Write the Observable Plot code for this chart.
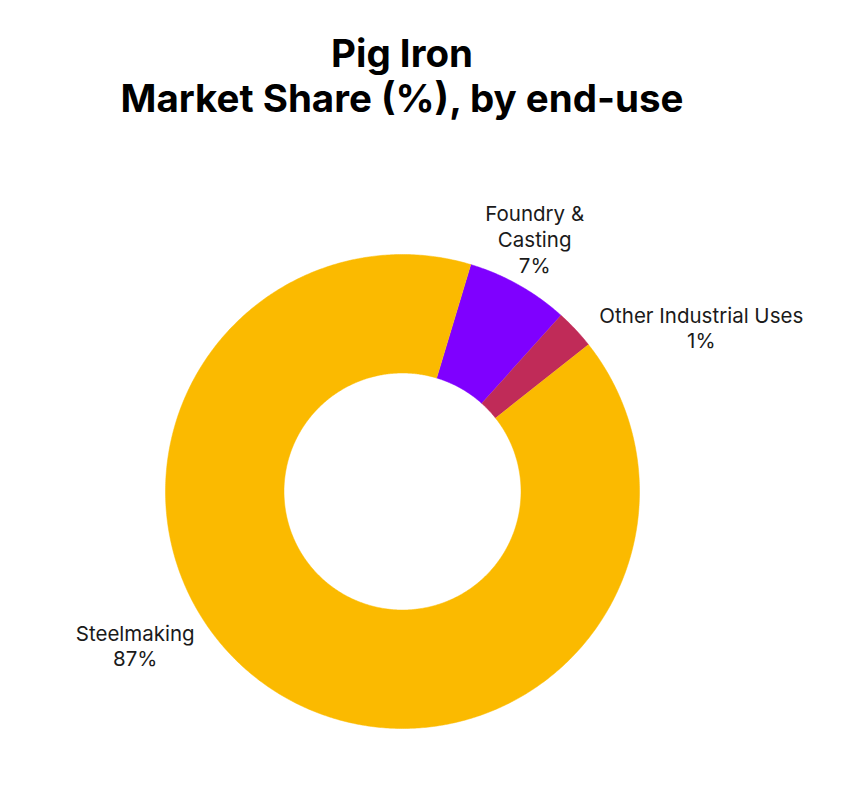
<!DOCTYPE html>
<html>
<head>
<meta charset="utf-8">
<script src="https://cdn.jsdelivr.net/npm/d3@7"></script>
<script src="https://cdn.jsdelivr.net/npm/@observablehq/plot@0.6"></script>
<style>
  body { margin: 0; background: #fff; font-family: Inter, "Noto Sans", sans-serif; }
  #title { box-sizing: border-box; height: 140px; width: 804px; padding-top: 31px;
           text-align: center; font-weight: 700; font-size: 38.5px; line-height: 45px; color: #000; }
  #chart svg { display: block; }
</style>
</head>
<body>
<div id="title">Pig Iron<br>Market Share (%), by end-use</div>
<div id="chart"></div>
<script>
// Data (clockwise order starting from the rotation angle)
const names = ["Foundry & Casting", "Other Industrial Uses", "Steelmaking"];
const shares = [7.0, 2.7, 90.3];
const labels = ["Foundry &\nCasting\n7%", "Other Industrial Uses\n1%", "Steelmaking\n87%"];
const colors = ["#7F00FF", "#C02B58", "#FBBA00"];
const rotationDeg = 16.75;
const hole = 0.5;

const pie = d3.pie().sort(null).value(d => d)
  .startAngle(rotationDeg * Math.PI / 180)
  .endAngle(rotationDeg * Math.PI / 180 + 2 * Math.PI);
const arcs = pie(shares);

const rows = [];
const mids = [];
arcs.forEach((a, i) => {
  const n = Math.max(2, Math.ceil((a.endAngle - a.startAngle) / (Math.PI / 360)));
  const outer = [], inner = [];
  for (let k = 0; k <= n; k++) {
    const t = a.startAngle + (a.endAngle - a.startAngle) * k / n;
    outer.push({name: names[i], x: Math.sin(t), y: Math.cos(t)});
    inner.push({name: names[i], x: hole * Math.sin(t), y: hole * Math.cos(t)});
  }
  rows.push(...outer, ...inner.reverse());
  const m = (a.startAngle + a.endAngle) / 2;
  mids.push({name: names[i], label: labels[i], x: Math.sin(m), y: Math.cos(m)});
});

const textOpts = {x: "x", y: "y", text: "label", fontSize: 20.5, lineHeight: 1.25,
  textAnchor: "middle", lineAnchor: "middle", fill: "#1a1a1a"};

const chart = Plot.plot({
  width: 858,
  height: 652,
  margin: 0,
  x: {domain: [-1, 1], range: [165, 639], axis: null},
  y: {domain: [-1, 1], range: [588, 114], axis: null},
  color: {domain: names, range: colors},
  style: {fontFamily: "Inter, 'Noto Sans', sans-serif", color: "#222"},
  marks: [
    Plot.line(rows, {x: "x", y: "y", z: "name", fill: "name", stroke: "name", strokeWidth: 0.5}),
    Plot.text([mids[0]], {...textOpts, dx: 16, dy: -46}),
    Plot.text([mids[1]], {...textOpts, dx: 126, dy: -2}),
    Plot.text([mids[2]], {...textOpts, dx: -134, dy: -42})
  ]
});
document.getElementById("chart").appendChild(chart);
</script>
</body>
</html>
